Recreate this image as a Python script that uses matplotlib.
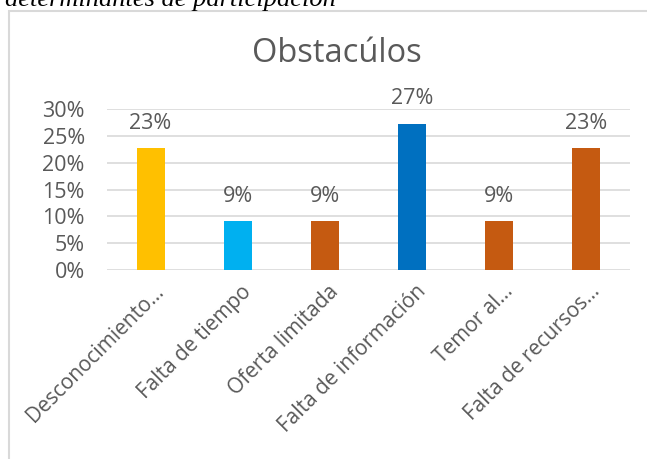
import matplotlib
matplotlib.use("Agg")
import matplotlib.pyplot as plt
import matplotlib.transforms as mtransforms
from matplotlib.patches import Rectangle


CATEGORIES = [
    "Desconocimiento…",
    "Falta de tiempo",
    "Oferta limitada",
    "Falta de información",
    "Temor al…",
    "Falta de recursos…",
]
VALUES = [0.2273, 0.0909, 0.0909, 0.2727, 0.0909, 0.2273]
BAR_COLORS = ["#FFC000", "#00B0F0", "#C55A11", "#0070C0", "#C55A11", "#C55A11"]
Y_TICKS = [0.0, 0.05, 0.10, 0.15, 0.20, 0.25, 0.30]

TEXT_COLOR = "#595959"
GRID_COLOR = "#D9D9D9"


def main() -> None:
    W, H = 647, 459
    fig = plt.figure(figsize=(W / 100, H / 100), dpi=100, facecolor="white")

    # caption from the document, cut off at the top edge
    fig.text(5 / W, 1 - 6 / H, "determinantes de participación",
             family="Liberation Serif", style="italic", fontsize=19,
             ha="left", va="baseline", color="black")

    # chart frame
    fig.patches.append(Rectangle((9 / W, -0.1), 1.2, 1 - 11 / H + 0.1,
                                 transform=fig.transFigure, fill=False,
                                 edgecolor=GRID_COLOR, linewidth=1.5))

    ax = fig.add_axes([107 / W, 1 - 270 / H, 523 / W, 161 / H])
    x = list(range(len(CATEGORIES)))
    ax.bar(x, VALUES, width=0.32, color=BAR_COLORS, zorder=3)

    for xi, v in zip(x, VALUES):
        ax.text(xi, v + 0.046, f"{v:.0%}", ha="center", va="center",
                fontsize=15.5, color=TEXT_COLOR, family="Open Sans", clip_on=False)

    ax.set_xlim(-0.5, len(CATEGORIES) - 0.5)
    ax.set_ylim(0, 0.30)
    ax.set_yticks(Y_TICKS)
    ax.set_yticklabels([f"{t:.0%}" for t in Y_TICKS])
    ax.yaxis.grid(True, color=GRID_COLOR, linewidth=1.2, zorder=0)
    ax.set_axisbelow(True)
    for side in ["top", "right", "left", "bottom"]:
        ax.spines[side].set_visible(False)
    ax.tick_params(axis="both", length=0, labelcolor=TEXT_COLOR)
    ax.tick_params(axis="y", pad=16, labelsize=15.5)
    for lab in ax.get_yticklabels():
        lab.set_family("Open Sans")

    ax.set_xticks(x)
    ax.set_xticklabels(CATEGORIES, rotation=45, ha="right",
                       rotation_mode="anchor", family="Open Sans")
    ax.tick_params(axis="x", pad=8, labelsize=15)
    shift = mtransforms.ScaledTranslation(3 / 100, 0, fig.dpi_scale_trans)
    for lab in ax.get_xticklabels():
        lab.set_transform(lab.get_transform() + shift)

    fig.text(337 / W, 1 - 54 / H, "Obstacúlos", ha="center", va="center",
             fontsize=23.5, color=TEXT_COLOR, family="Open Sans")

    fig.savefig("out.png", dpi=100, facecolor="white")
    plt.close(fig)


if __name__ == "__main__":
    main()
